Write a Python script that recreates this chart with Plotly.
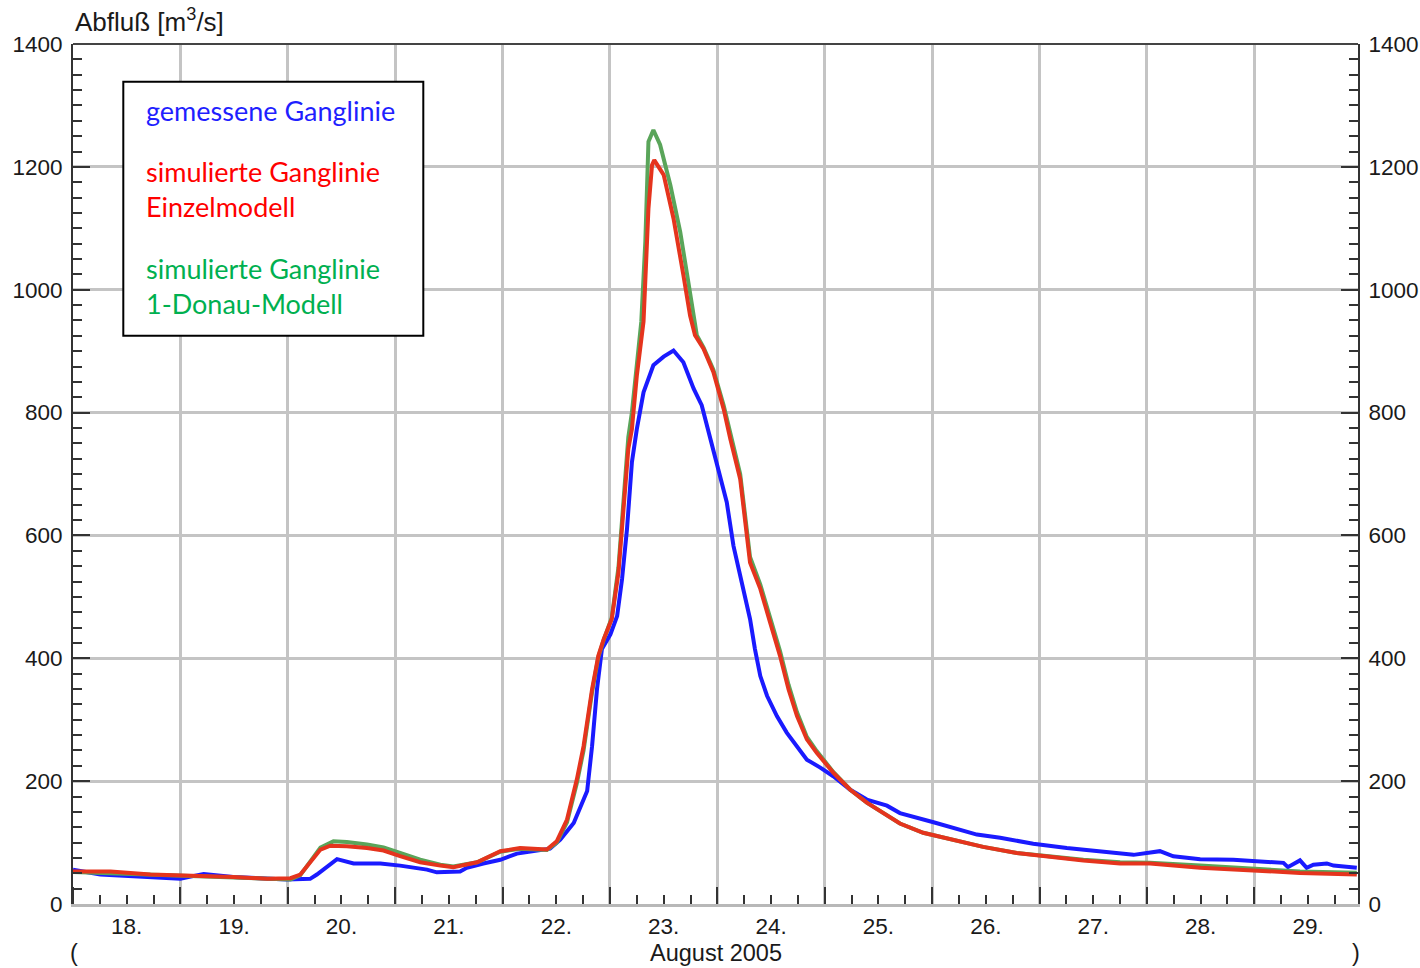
import pandas as pd
import plotly.graph_objects as go

# ---------------- data ----------------
start = "2005-08-18 00:00"
x_end = "2005-08-29 23:10"

# measured hydrograph: hours since 18 Aug 2005 00:00, discharge m3/s
gem_h = [0, 6.1, 24, 29.2, 35.8, 47.8, 53, 54.5, 59, 62.7, 68.7, 73.1, 79.1, 81.3, 86.5, 88,
         91.7, 95.5, 99.2, 104.4, 106.6, 108.9, 111.9, 114.9, 116, 117.1, 118.2, 120.1, 121.6,
         122.7, 123.8, 124.9, 126, 127.5, 129.7, 132, 134.2, 136.4, 138.7, 140.5, 142.4, 143.9,
         146.1, 147.6, 149.8, 151.3, 152.4, 153.6, 155.1, 157.3, 159.5, 161.8, 164, 167, 169.9,
         173.7, 177.4, 181.9, 184.8, 192.3, 199.7, 202, 207.2, 214.6, 222.1, 229.5, 237, 242.9,
         245.9, 251.9, 259.3, 270.5, 271.5, 274.2, 275.7, 277.2, 280.2, 281.7, 286.9]
gem_q = [56, 48, 41, 49, 44, 40, 41, 48, 73, 66, 66, 62.5, 56, 51.5, 53, 59,
         66, 72, 82, 88.6, 90, 105, 132, 184, 257, 349.5, 415, 439, 469,
         529, 610, 719, 773, 833, 877, 891, 901, 882, 839, 812, 757, 719,
         654, 583, 513, 464, 415, 371, 339, 306, 279, 257, 235, 222, 208,
         186, 170, 160, 148, 133, 118, 113, 108, 98, 91, 86, 80, 86,
         77.6, 73, 72, 67, 60, 71, 59, 64, 66, 62.5, 59]

# simulated hydrograph, single model
ein_h = [0, 8.4, 17.3, 28.5, 35.8, 43.4, 48.6, 50.8, 53, 55.3, 57.5, 61.2, 65.7, 69.4, 73.1,
         77.6, 82.1, 85, 90.3, 95.5, 99.9, 105.9, 108.1, 110.4, 112.6, 114.1, 116, 117.4,
         118.6, 120.4, 121.9, 123, 124.1, 124.9, 126, 127.5, 128.6, 129.4, 129.9, 132, 134.2,
         136.4, 137.9, 139, 140.9, 143.1, 145.4, 146.9, 149.1, 151.3, 153.6, 155.8, 158, 159.9,
         161.8, 164, 166.2, 169.9, 173.7, 177.4, 181.1, 184.8, 190, 196, 203.4, 210.9, 218.3,
         225.8, 234, 240.7, 251.9, 263, 274.2, 286.9]
ein_q = [53, 53, 48, 46, 44, 41, 42, 48, 67, 88.6, 95, 94, 91, 87, 78,
         68, 62.5, 60, 68, 86, 91, 88.6, 102, 137.5, 203, 257, 349.5, 404,
         431, 464, 540, 638, 741, 773, 860, 948, 1132, 1203, 1211, 1187, 1116,
         1024, 958, 926, 904, 866, 806, 757, 692, 556, 513, 458, 404, 349.5,
         306, 268, 246, 214, 186, 165, 148, 131, 116, 106, 93, 83, 77,
         71, 66, 66, 59, 55, 50.6, 48]

# simulated hydrograph, 1-Donau model
don_h = [0, 8.4, 17.3, 28.5, 35.8, 43.4, 48.6, 50.8, 53, 55.3, 58.2, 61.2, 65.7, 69.4, 73.1,
         77.6, 82.1, 85, 90.3, 95.5, 99.9, 105.9, 108.1, 110.4, 112.6, 114.1, 116, 117.4,
         118.6, 120.4, 121.9, 123, 124.1, 124.9, 126, 127, 127.9, 128.3, 128.6, 129.7, 131.2,
         133.5, 135.7, 137.5, 139.4, 140.9, 143.1, 145.4, 146.9, 149.1, 151.3, 153.6, 155.8,
         158, 159.9, 161.8, 164, 166.2, 169.9, 173.7, 177.4, 181.1, 184.8, 190, 196, 203.4,
         210.9, 218.3, 225.8, 234, 240.7, 251.9, 263, 274.2, 286.9]
don_q = [52, 50, 47, 45, 43, 41, 40, 47, 70, 92, 102, 101, 97, 92, 83,
         72, 64, 61, 68, 85, 90, 88, 100, 133, 197, 250, 345, 402,
         430, 466, 548, 650, 760, 800, 880, 948, 1078, 1187, 1241, 1260, 1236,
         1170, 1094, 1013, 926, 906, 870, 812, 765, 700, 565, 520, 466,
         412, 357, 312, 272, 249, 215, 186, 165, 148, 131, 116, 106, 93,
         83, 77, 72, 68, 67, 62.5, 58, 53, 51]

legend_lines = [("gemessene Ganglinie", "#1f1fff"),
                ("simulierte Ganglinie", "#ff0000"),
                ("Einzelmodell", "#ff0000"),
                ("simulierte Ganglinie", "#00b050"),
                ("1-Donau-Modell", "#00b050")]

# ---------------------------------------------------------------
t0 = pd.Timestamp(start)
def to_time(hours):
    return t0 + pd.to_timedelta(hours, unit="h")

fig = go.Figure()
fig.add_trace(go.Scatter(x=to_time(gem_h), y=gem_q, mode="lines",
                         line=dict(color="#1a1aff", width=4), name="gemessen"))
fig.add_trace(go.Scatter(x=to_time(don_h), y=don_q, mode="lines",
                         line=dict(color="#5aa55a", width=4), name="1-Donau"))
fig.add_trace(go.Scatter(x=to_time(ein_h), y=ein_q, mode="lines", yaxis="y2",
                         line=dict(color="#e5341d", width=4), name="Einzel"))

W, H = 1420, 968
L, R, T, B = 73, 62, 44, 64
pw, ph = W - L - R, H - T - B

def px_x(p):
    return (p - L) / pw
def px_y(p):
    return (H - B - p) / ph

tickfont = dict(family="Liberation Sans, Arial, sans-serif", size=22.5, color="#1a1a1a")
axcol = "#333333"
gridcol = "#c4c4c4"

yax = dict(range=[0, 1400], dtick=200, tick0=0, ticks="inside", ticklen=17, tickwidth=2,
           tickcolor=axcol, showline=True, linecolor=axcol, linewidth=2, zeroline=False,
           tickfont=tickfont, ticklabelstandoff=4, automargin=False,
           minor=dict(dtick=25, tick0=0, ticks="inside", ticklen=9, tickwidth=1.5,
                      tickcolor=axcol, showgrid=False))

fig.update_layout(
    template="none",
    width=W, height=H, margin=dict(l=L, r=R, t=T, b=B, pad=0, autoexpand=False),
    paper_bgcolor="white", plot_bgcolor="white", showlegend=False,
    xaxis=dict(type="date", range=[start, x_end], dtick=86400000, tick0=start,
               tickformat="%d.", ticklabelmode="period", ticks="inside", ticklen=17,
               tickwidth=2, tickcolor=axcol, showgrid=True, gridcolor=gridcol, gridwidth=3,
               showline=True, linecolor="#b8b8b8", linewidth=3, zeroline=False,
               tickfont=tickfont, automargin=False,
               minor=dict(dtick=21600000, tick0=start, ticks="inside", ticklen=9,
                          tickwidth=1.5, tickcolor=axcol, showgrid=False)),
    yaxis=dict(**yax, showgrid=True, gridcolor=gridcol, gridwidth=3, side="left"),
    yaxis2=dict(**yax, showgrid=False, overlaying="y", side="right"),
)

shapes = [
    # top frame line
    dict(type="line", xref="paper", yref="paper", x0=0, x1=1, y0=1, y1=1,
         line=dict(color="#444444", width=2), layer="above"),
    # legend box
    dict(type="rect", xref="paper", yref="paper",
         x0=px_x(123.3), x1=px_x(423.3), y0=px_y(335.7), y1=px_y(81.7),
         fillcolor="white", line=dict(color="black", width=2), layer="above"),
]
fig.update_layout(shapes=shapes)

ann = []
baselines = [120, 181.7, 216.7, 278.3, 313.3]
for (txt, col), bl in zip(legend_lines, baselines):
    ann.append(dict(text=txt, xref="paper", yref="paper", x=px_x(144), y=px_y(bl - 10),
                    xanchor="left", yanchor="middle", showarrow=False,
                    font=dict(family="Lato, Carlito, sans-serif", size=27, color=col)))

lab_font = dict(family="Liberation Sans, Arial, sans-serif", size=23.5, color="#1a1a1a")
ann.append(dict(text="Abfluß [m<sup>3</sup>/s]", xref="paper", yref="paper", x=0, y=px_y(21),
                xanchor="left", yanchor="middle", showarrow=False,
                font=dict(family="Liberation Sans, Arial, sans-serif", size=26, color="#1a1a1a")))
ann.append(dict(text="August 2005", xref="paper", yref="paper", x=0.5, y=px_y(953),
                xanchor="center", yanchor="middle", showarrow=False, font=lab_font))
ann.append(dict(text="(", xref="paper", yref="paper", x=px_x(68), y=px_y(953),
                xanchor="left", yanchor="middle", showarrow=False, font=lab_font))
ann.append(dict(text=")", xref="paper", yref="paper", x=px_x(1362), y=px_y(953),
                xanchor="right", yanchor="middle", showarrow=False, font=lab_font))
fig.update_layout(annotations=ann)

fig.write_html("out.html", config={"displayModeBar": False},
               post_script="document.body.style.margin='0';document.body.style.overflow='hidden';")
